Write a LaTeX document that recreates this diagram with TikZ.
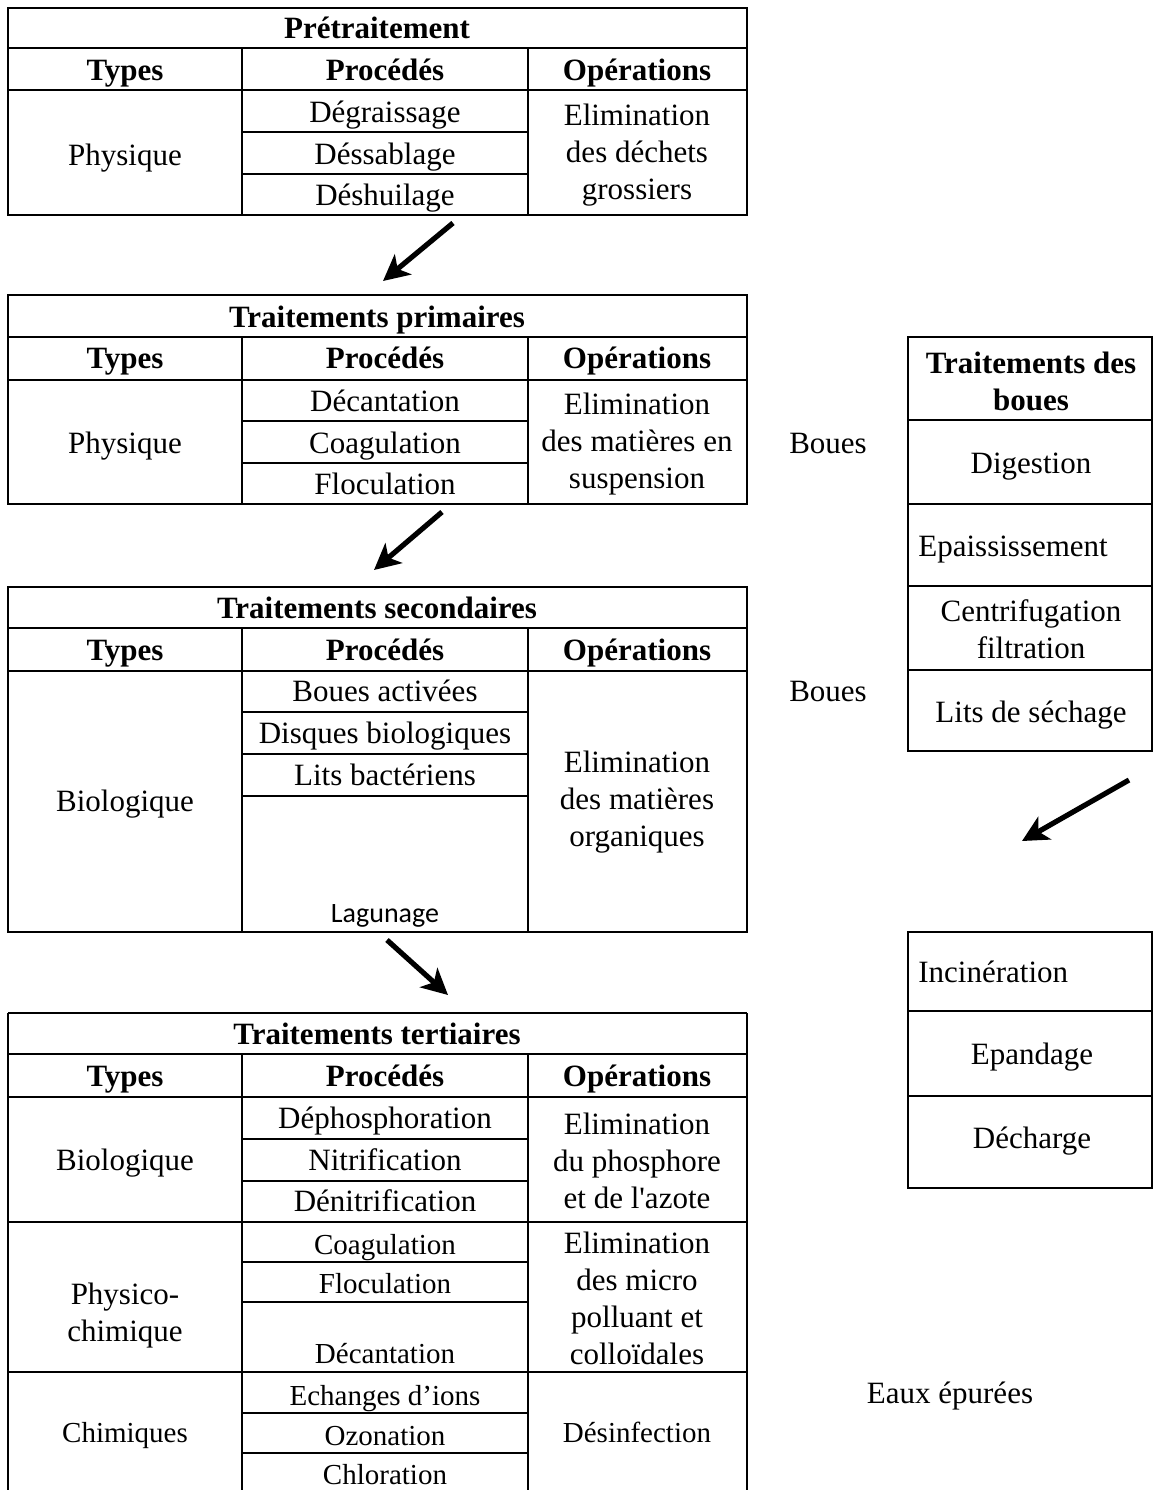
\documentclass[tikz,border=0pt]{standalone}
\usepackage{fontspec}
\setmainfont{Liberation Serif}
\newfontfamily\calib{Carlito}
\usetikzlibrary{arrows.meta}
\newcommand\straightq{\XeTeXglyph\XeTeXcharglyph"27\relax}
\begin{document}
\begin{tikzpicture}[x=0.5pt,y=-0.5pt,
  grid/.style={line width=1pt},
  txt/.style={inner sep=0pt, align=center, font=\fontsize{15.5}{18.5}\selectfont},
  one/.style={txt, text height=11.5pt, text depth=1.5pt},
  hdr/.style={inner sep=0pt, align=center, font=\fontsize{15.5}{18.5}\selectfont\bfseries},
  hone/.style={hdr, text height=11.5pt, text depth=1.5pt},
  sml/.style={inner sep=0pt, align=center, font=\fontsize{14.5}{18.5}\selectfont, text height=11pt, text depth=1.5pt},
  flow/.style={line width=2.6pt, -{Stealth[length=13pt,width=13pt,inset=3.5pt]}}]
\useasboundingbox (0,0) rectangle (1155,1490);
\clip (0,0) rectangle (1155,1490);

% ---------- Table 1 : Pretraitement
\draw[grid] (8,8) rectangle (747,215);
\draw[grid] (8,48) -- (747,48) (8,90) -- (747,90);
\draw[grid] (242,48) -- (242,215) (528,48) -- (528,215);
\draw[grid] (242,132) -- (528,132) (242,174) -- (528,174);
\node[hone] (t1) at (377,28) {Prétraitement};
\node[hone] (t1a) at (125,70) {Types};
\node[hone] (t1b) at (385,70) {Procédés};
\node[hone] (t1c) at (637,70) {Opérations};
\node[one] (t1d) at (125,155) {Physique};
\node[one] (t1e) at (385,112) {Dégraissage};
\node[one] (t1f) at (385,154) {Déssablage};
\node[one] (t1g) at (385,195) {Déshuilage};
\node[txt] (t1h) at (637,155) {Elimination\\des déchets\\grossiers};

% ---------- Table 2 : primaires
\draw[grid] (8,295) rectangle (747,504);
\draw[grid] (8,337) -- (747,337) (8,380) -- (747,380);
\draw[grid] (242,337) -- (242,504) (528,337) -- (528,504);
\draw[grid] (242,421) -- (528,421) (242,463) -- (528,463);
\node[hone] (t2) at (377,317) {Traitements primaires};
\node[hone] (t2a) at (125,358) {Types};
\node[hone] (t2b) at (385,358) {Procédés};
\node[hone] (t2c) at (637,358) {Opérations};
\node[one] (t2d) at (125,443) {Physique};
\node[one] (t2e) at (385,401) {Décantation};
\node[one] (t2f) at (385,443) {Coagulation};
\node[one] (t2g) at (385,484) {Floculation};
\node[txt] (t2h) at (637,444) {Elimination\\des matières en\\suspension};

% ---------- Table 3 : secondaires
\draw[grid] (8,587) rectangle (747,932);
\draw[grid] (8,628) -- (747,628) (8,671) -- (747,671);
\draw[grid] (242,628) -- (242,932) (528,628) -- (528,932);
\draw[grid] (242,712) -- (528,712) (242,754) -- (528,754) (242,796) -- (528,796);
\node[hone] (t3) at (377,608) {Traitements secondaires};
\node[hone] (t3a) at (125,650) {Types};
\node[hone] (t3b) at (385,650) {Procédés};
\node[hone] (t3c) at (637,650) {Opérations};
\node[one] (t3d) at (125,801) {Biologique};
\node[one] (t3e) at (385,691) {Boues activées};
\node[one] (t3f) at (385,733) {Disques biologiques};
\node[one] (t3g) at (385,775) {Lits bactériens};
\node[inner sep=0pt, font=\calib\fontsize{14}{17}\selectfont, text height=10.5pt, text depth=1.5pt] (t3h) at (385,913) {Lagunage};
\node[txt] (t3i) at (637,802) {Elimination\\des matières\\organiques};

% ---------- Table 4 : tertiaires
\draw[grid] (8,1013) -- (747,1013);
\draw[grid] (8,1013) -- (8,1495) (747,1013) -- (747,1495);
\draw[grid] (8,1054) -- (747,1054) (8,1097) -- (747,1097);
\draw[grid] (242,1054) -- (242,1495) (528,1054) -- (528,1495);
\draw[grid] (242,1139) -- (528,1139) (242,1181) -- (528,1181);
\draw[grid] (8,1222) -- (747,1222);
\draw[grid] (242,1262) -- (528,1262) (242,1302) -- (528,1302);
\draw[grid] (8,1372) -- (747,1372);
\draw[grid] (242,1413) -- (528,1413) (242,1453) -- (528,1453);
\node[hone] (t4) at (377,1034) {Traitements tertiaires};
\node[hone] (t4a) at (125,1076) {Types};
\node[hone] (t4b) at (385,1076) {Procédés};
\node[hone] (t4c) at (637,1076) {Opérations};
\node[one] (t4d) at (125,1160) {Biologique};
\node[one] (t4e) at (385,1118) {Déphosphoration};
\node[one] (t4f) at (385,1160) {Nitrification};
\node[one] (t4g) at (385,1201) {Dénitrification};
\node[txt] (t4h) at (637,1161) {Elimination\\du phosphore\\et de l\straightq azote};
\node[txt] (t4i) at (125,1316) {Physico-\\chimique};
\node[sml] (t4j) at (385,1245) {Coagulation};
\node[sml] (t4k) at (385,1284) {Floculation};
\node[sml] (t4l) at (385,1354) {Décantation};
\node[txt] (t4m) at (637,1298) {Elimination\\des micro\\polluant et\\colloïdales};
\node[sml] (t4n) at (125,1433) {Chimiques};
\node[sml] (t4o) at (385,1396) {Echanges d’ions};
\node[sml] (t4p) at (385,1436) {Ozonation};
\node[sml] (t4q) at (385,1475) {Chloration};
\node[sml] (t4r) at (637,1433) {Désinfection};

% ---------- Boues tables
\draw[grid] (908,337) rectangle (1152,751);
\draw[grid] (908,420) -- (1152,420) (908,504) -- (1152,504) (908,586) -- (1152,586) (908,670) -- (1152,670);
\node[hdr] (b0) at (1031,381) {Traitements des\\boues};
\node[one] (b1) at (1031,463) {Digestion};
\node[one, anchor=west] (b2) at (918,546) {Epaississement};
\node[txt] (b3) at (1031,629) {Centrifugation\\filtration};
\node[one] (b4) at (1031,712) {Lits de séchage};

\draw[grid] (908,932) rectangle (1152,1188);
\draw[grid] (908,1011) -- (1152,1011) (908,1096) -- (1152,1096);
\node[one, anchor=west] (c1) at (918,972) {Incinération};
\node[one] (c2) at (1032,1054) {Epandage};
\node[one] (c3) at (1032,1138) {Décharge};

% ---------- free labels
\node[one] (l1) at (828,443) {Boues};
\node[one] (l2) at (828,691) {Boues};
\node[one] (l3) at (950,1393) {Eaux épurées};

% ---------- arrows
\coordinate (a1s) at (453,223); \coordinate (a1e) at (383,281);
\coordinate (a2s) at (442,512); \coordinate (a2e) at (374,570);
\coordinate (a3s) at (1129,780); \coordinate (a3e) at (1022,841);
\coordinate (a4s) at (387,940); \coordinate (a4e) at (448,995);
\draw[flow] (a1s) -- (a1e);
\draw[flow] (a2s) -- (a2e);
\draw[flow] (a3s) -- (a3e);
\draw[flow] (a4s) -- (a4e);
\end{tikzpicture}
\end{document}
